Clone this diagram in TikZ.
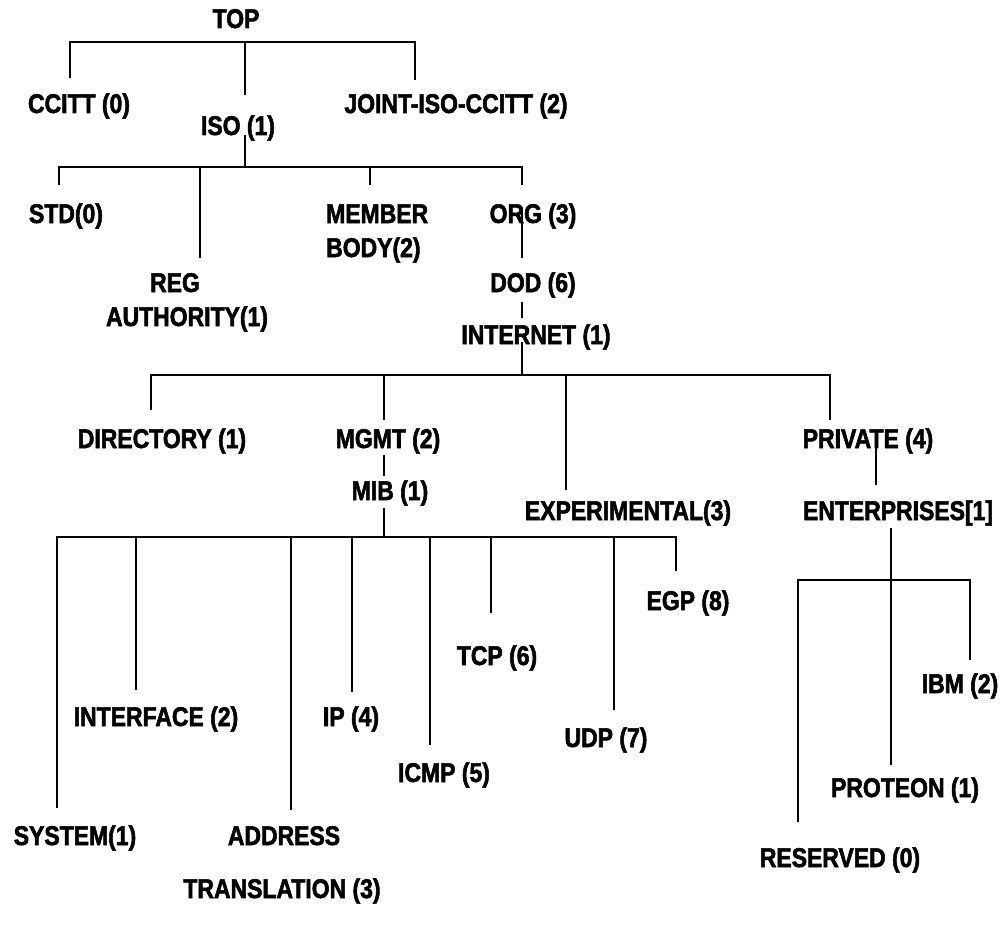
\documentclass[tikz,border=0pt]{standalone}
\usepackage{fontspec}
\setmainfont{Liberation Sans}[FakeStretch=0.85, BoldFeatures={FakeBold=2}]
\begin{document}
\begin{tikzpicture}[x=1pt,y=-1pt,
  lbl/.style={font=\bfseries\fontsize{27}{30}\selectfont, inner sep=0pt, anchor=base},
  lblw/.style={lbl, anchor=base west},
  tree/.style={line width=2.2pt}]
\useasboundingbox (0,0) rectangle (1003,931);

% ---- labels ----
\node[lbl] (top)   at (236,28)  {TOP};
\node[lbl] (ccitt) at (79,113)  {CCITT (0)};
\node[lbl] (iso)   at (238,135) {ISO (1)};
\node[lbl] (jiso)  at (456,113) {JOINT-ISO-CCITT (2)};
\node[lbl] (std)   at (66,223)  {STD(0)};
\node[lblw] (member) at (326,223) {MEMBER};
\node[lblw] (body)   at (326,257) {BODY(2)};
\node[lbl] (org)   at (533,223) {ORG (3)};
\node[lbl] (reg)   at (175,292) {REG};
\node[lbl] (auth)  at (187,326) {AUTHORITY(1)};
\node[lbl] (dod)   at (533,292) {DOD (6)};
\node[lbl] (inet)  at (536,344) {INTERNET (1)};
\node[lbl] (dir)   at (162,448) {DIRECTORY (1)};
\node[lbl] (mgmt)  at (388,448) {MGMT (2)};
\node[lbl] (exp)   at (628,520) {EXPERIMENTAL(3)};
\node[lbl] (priv)  at (868,448) {PRIVATE (4)};
\node[lbl] (ent)   at (898,520) {ENTERPRISES[1]};
\node[lbl] (mib)   at (390,500) {MIB (1)};
\node[lbl] (egp)   at (688,610) {EGP (8)};
\node[lbl] (tcp)   at (497,665) {TCP (6)};
\node[lbl] (ibm)   at (960,693) {IBM (2)};
\node[lbl] (ifc)   at (156,726) {INTERFACE (2)};
\node[lbl] (ip)    at (351,726) {IP (4)};
\node[lbl] (udp)   at (606,747) {UDP (7)};
\node[lbl] (icmp)  at (444,782) {ICMP (5)};
\node[lbl] (prot)  at (905,797) {PROTEON (1)};
\node[lbl] (sys)   at (75,845)  {SYSTEM(1)};
\node[lbl] (addr)  at (284,845) {ADDRESS};
\node[lbl] (res)   at (840,867) {RESERVED (0)};
\node[lbl] (trans) at (282,898) {TRANSLATION (3)};

% ---- branch points and line ends ----
\coordinate (topbar) at (245,42);
\coordinate (ccitt-e) at (70,78);
\coordinate (iso-e) at (245,95);
\coordinate (jiso-e) at (415,80);

\coordinate (iso-s) at (245,135);
\coordinate (isobar) at (245,167);
\coordinate (std-e) at (59,185);
\coordinate (reg-e) at (200,258);
\coordinate (mem-e) at (370,185);
\coordinate (org-e) at (522,185);

\coordinate (org-s) at (522,210);
\coordinate (dod-e) at (522,258);
\coordinate (dod-s) at (522,302);
\coordinate (inet-e) at (522,318);

\coordinate (inet-s) at (522,342);
\coordinate (inetbar) at (522,375);
\coordinate (dir-e) at (151,410);
\coordinate (mgmt-e) at (384,420);
\coordinate (exp-e) at (566,490);
\coordinate (priv-e) at (830,420);

\coordinate (mgmt-s) at (384,455);
\coordinate (mib-e) at (384,476);
\coordinate (priv-s) at (876,440);
\coordinate (ent-e) at (876,485);

\coordinate (mib-s) at (384,508);
\coordinate (mibbar) at (384,537);
\coordinate (sys-e) at (57,808);
\coordinate (ifc-e) at (136,690);
\coordinate (addr-e) at (291,810);
\coordinate (ip-e) at (352,692);
\coordinate (icmp-e) at (430,745);
\coordinate (tcp-e) at (491,613);
\coordinate (udp-e) at (614,710);
\coordinate (egp-e) at (676,571);

\coordinate (ent-s) at (891,528);
\coordinate (entbar) at (891,580);
\coordinate (prot-e) at (891,765);
\coordinate (res-e) at (798,822);
\coordinate (ibm-e) at (970,660);

% ---- connectors ----
\draw[tree] (ccitt-e) |- (topbar) -| (jiso-e);
\draw[tree] (topbar) -- (iso-e);

\draw[tree] (iso-s) -- (isobar);
\draw[tree] (std-e) |- (isobar) -| (org-e);
\draw[tree] (isobar -| reg-e) -- (reg-e);
\draw[tree] (isobar -| mem-e) -- (mem-e);

\draw[tree] (org-s) -- (dod-e);
\draw[tree] (dod-s) -- (inet-e);

\draw[tree] (inet-s) -- (inetbar);
\draw[tree] (dir-e) |- (inetbar) -| (priv-e);
\draw[tree] (inetbar -| mgmt-e) -- (mgmt-e);
\draw[tree] (inetbar -| exp-e) -- (exp-e);

\draw[tree] (mgmt-s) -- (mib-e);
\draw[tree] (priv-s) -- (ent-e);

\draw[tree] (mib-s) -- (mibbar);
\draw[tree] (sys-e) |- (mibbar) -| (egp-e);
\foreach \c in {ifc-e,addr-e,ip-e,icmp-e,tcp-e,udp-e}
  \draw[tree] (mibbar -| \c) -- (\c);

\draw[tree] (ent-s) -- (prot-e);
\draw[tree] (res-e) |- (entbar) -| (ibm-e);
\end{tikzpicture}
\end{document}
